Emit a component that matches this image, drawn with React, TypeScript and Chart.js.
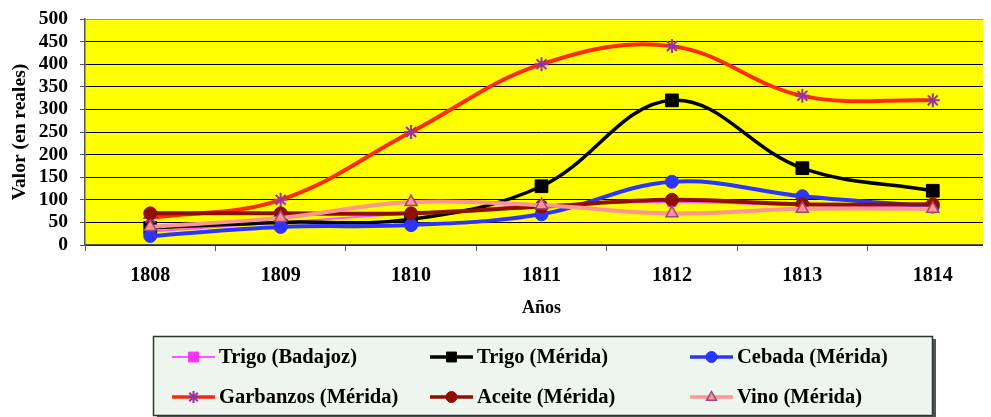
import React, { useEffect, useRef } from "react";
import { Chart, registerables } from "chart.js";

Chart.register(...registerables);

const years = ["1808", "1809", "1810", "1811", "1812", "1813", "1814"];
const trigoBadajoz = [30, 50, 70, 88, 95, 88, 85];
const trigoMerida = [38, 50, 57, 130, 320, 170, 120];
const cebadaMerida = [20, 40, 44, 68, 140, 108, 85];
const garbanzosMerida = [60, 100, 250, 400, 440, 330, 320];
const aceiteMerida = [70, 70, 70, 85, 100, 90, 90];
const vinoMerida = [40, 60, 95, 88, 70, 80, 80];

const yTitle = "Valor (en reales)";
const xTitle = "Años";

const FONT = "'Liberation Serif', 'Times New Roman', serif";

type Ser = {
  label: string;
  data: number[];
  line: string;
  width: number;
  style: string;
  fill: string;
  stroke: string;
  radius: number;
  bw: number;
  order: number;
};

const series: Ser[] = [
  { label: "Trigo (Badajoz)", data: trigoBadajoz, line: "#FF55FF", width: 2, style: "rect", fill: "#FF33FF", stroke: "#FF33FF", radius: 6, bw: 1, order: 5 },
  { label: "Trigo (Mérida)", data: trigoMerida, line: "#000000", width: 3.5, style: "rect", fill: "#000000", stroke: "#000000", radius: 9, bw: 1, order: 4 },
  { label: "Cebada (Mérida)", data: cebadaMerida, line: "#2B35FF", width: 4, style: "circle", fill: "#2B35FF", stroke: "#2B35FF", radius: 6.5, bw: 1, order: 3 },
  { label: "Garbanzos (Mérida)", data: garbanzosMerida, line: "#FF2A00", width: 4, style: "star", fill: "#993399", stroke: "#993399", radius: 7, bw: 2, order: 2 },
  { label: "Aceite (Mérida)", data: aceiteMerida, line: "#8E0F00", width: 4, style: "circle", fill: "#8E0F00", stroke: "#8E0F00", radius: 6.5, bw: 1, order: 1 },
  { label: "Vino (Mérida)", data: vinoMerida, line: "#FF9494", width: 4, style: "triangle", fill: "#FF9494", stroke: "#A0457A", radius: 7, bw: 1.5, order: 0 },
];

function drawMarker(ctx: CanvasRenderingContext2D, s: Ser, x: number, y: number, r: number) {
  ctx.save();
  ctx.fillStyle = s.fill;
  ctx.strokeStyle = s.stroke;
  ctx.lineWidth = s.bw;
  ctx.beginPath();
  if (s.style === "rect") {
    const h = r * Math.SQRT1_2;
    ctx.rect(x - h, y - h, 2 * h, 2 * h);
    ctx.fill();
    ctx.stroke();
  } else if (s.style === "circle") {
    ctx.arc(x, y, r, 0, Math.PI * 2);
    ctx.fill();
    ctx.stroke();
  } else if (s.style === "triangle") {
    ctx.moveTo(x, y - r);
    ctx.lineTo(x + r * 0.9, y + r * 0.6);
    ctx.lineTo(x - r * 0.9, y + r * 0.6);
    ctx.closePath();
    ctx.fill();
    ctx.stroke();
  } else if (s.style === "star") {
    for (let i = 0; i < 4; i++) {
      const a = (i * Math.PI) / 4;
      ctx.moveTo(x - Math.sin(a) * r, y - Math.cos(a) * r);
      ctx.lineTo(x + Math.sin(a) * r, y + Math.cos(a) * r);
    }
    ctx.stroke();
  }
  ctx.restore();
}

const legendPlugin = {
  id: "boxLegend",
  afterDraw(chart: any) {
    const ctx: CanvasRenderingContext2D = chart.ctx;
    const bx = 145, by = 328, bw = 779, bh = 79;
    ctx.save();
    ctx.fillStyle = "#555555";
    ctx.fillRect(bx + 4, by + 3, bw, bh);
    ctx.fillStyle = "#EEF4EE";
    ctx.fillRect(bx, by, bw, bh);
    ctx.strokeStyle = "#333333";
    ctx.lineWidth = 1.5;
    ctx.strokeRect(bx + 0.5, by + 0.5, bw, bh);
    const cols = [164, 422, 682];
    const rows = [349, 389];
    ctx.font = `bold 20.5px ${FONT}`;
    ctx.textBaseline = "middle";
    ctx.textAlign = "left";
    series.forEach((s, i) => {
      const x = cols[i % 3];
      const y = rows[Math.floor(i / 3)];
      ctx.strokeStyle = s.line;
      ctx.lineWidth = s.width === 2 ? 2 : 3.5;
      ctx.beginPath();
      ctx.moveTo(x, y);
      ctx.lineTo(x + 43, y);
      ctx.stroke();
      drawMarker(ctx, s, x + 21.5, y, s.style === "rect" ? 7 : s.style === "star" ? 6 : 5.5);
      ctx.fillStyle = "#000000";
      ctx.fillText(s.label, x + 47, y + 1);
    });
    ctx.restore();
  },
};

export default function App() {
  const ref = useRef<HTMLCanvasElement | null>(null);
  useEffect(() => {
    if (!ref.current) return;
    const chart = new Chart(ref.current, {
      type: "line",
      data: {
        labels: years,
        datasets: series.map((s) => ({
          label: s.label,
          data: s.data,
          borderColor: s.line,
          backgroundColor: s.fill,
          borderWidth: s.width,
          pointStyle: s.style as any,
          pointRadius: s.radius,
          pointBackgroundColor: s.fill,
          pointBorderColor: s.stroke,
          pointBorderWidth: s.bw,
          tension: 0.38,
          fill: false,
          order: s.order,
        })),
      },
      options: {
        responsive: false,
        animation: false,
        devicePixelRatio: 1,
        layout: { padding: { top: 11, right: 4, left: 0, bottom: 0 } },
        plugins: {
          legend: { display: false },
          tooltip: { enabled: false },
        },
        scales: {
          x: {
            offset: true,
            afterFit: (s: any) => {
              s.height = 172;
              s.paddingLeft = 0;
              s.paddingRight = 0;
            },
            grid: {
              offset: true,
              drawOnChartArea: false,
              drawTicks: true,
              tickLength: 6,
              tickColor: "#555555",
            },
            border: { color: "#555555", width: 1.5 },
            ticks: {
              color: "#000000",
              padding: 13,
              font: { family: FONT, size: 20, weight: "bold" },
              maxRotation: 0,
              autoSkip: false,
            },
            title: {
              display: true,
              text: xTitle,
              color: "#000000",
              font: { family: FONT, size: 18, weight: "bold" },
              padding: { top: 0, bottom: 98 },
            },
          },
          y: {
            min: 0,
            max: 500,
            afterFit: (s: any) => {
              s.width = 77;
              s.paddingTop = 0;
              s.paddingBottom = 0;
            },
            grid: {
              color: (c: any) => (c.tick && c.tick.value === 500 ? "#999999" : "#000000"),
              lineWidth: 1,
              drawTicks: true,
              tickLength: 5,
              tickColor: "#555555",
            },
            border: { color: "#555555", width: 1.5 },
            ticks: {
              stepSize: 50,
              autoSkip: false,
              color: "#000000",
              padding: 12,
              font: { family: FONT, size: 19.5, weight: "bold" },
            },
            title: {
              display: true,
              text: yTitle,
              color: "#000000",
              font: { family: FONT, size: 19.5, weight: "bold" },
              padding: { top: 0, bottom: 0 },
            },
          },
        },
      },
      plugins: [
        {
          id: "plotBg",
          beforeDraw(chart: any) {
            const { ctx, chartArea } = chart;
            ctx.save();
            ctx.fillStyle = "#FFFF00";
            ctx.fillRect(chartArea.left, chartArea.top, chartArea.right - chartArea.left, chartArea.bottom - chartArea.top);
            ctx.restore();
          },
        },
        legendPlugin,
      ],
    });
    return () => chart.destroy();
  }, []);
  return (
    <div style={{ width: 983, height: 409, overflow: "hidden", background: "#FFFFFF" }}>
      <canvas ref={ref} width={1000} height={409} style={{ display: "block", width: 1000, height: 409 }} />
    </div>
  );
}
